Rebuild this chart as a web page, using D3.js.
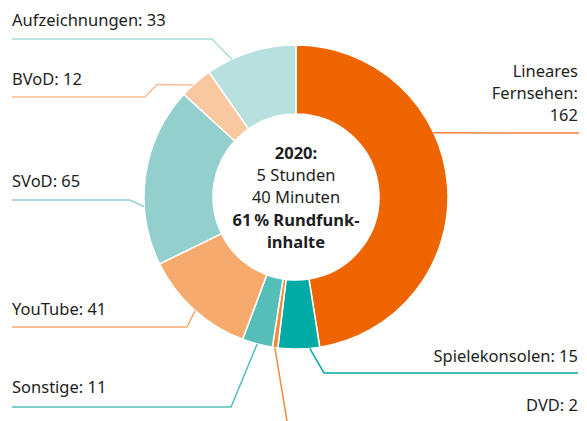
<!DOCTYPE html>
<html>
<head>
<meta charset="utf-8">
<script src="https://cdn.jsdelivr.net/npm/d3@7"></script>
<style>
  body { margin: 0; background: #fff; }
  svg text { font-family: "Noto Sans", "Open Sans", sans-serif; fill: #1e1e1e; }
</style>
</head>
<body>
<div id="chart"></div>
<script>
// Nutzungsdauer in Minuten pro Tag, 2020
var categories = ["Lineares Fernsehen", "Spielekonsolen", "DVD", "Sonstige", "YouTube", "SVoD", "BVoD", "Aufzeichnungen"];
var values = [162, 15, 2, 11, 41, 65, 12, 33];
var colors = ["#ee6500", "#00aba5", "#f08a3c", "#55beb9", "#f6aa6e", "#93cfcc", "#f9c7a0", "#b8e0de"];
var lineColors = ["#f0823a", "#00aba5", "#f08a3c", "#55beb9", "#f6aa6e", "#93cfcc", "#f7bf94", "#a9dad7"];
var centerLines = [["2020:", true], ["5 Stunden", false], ["40 Minuten", false], ["61\u2009% Rundfunk-", true], ["inhalte", true]];

var width = 587, height = 421;
var cx = 296, cy = 197, outerR = 152, innerR = 83;

// label layout: side, text baselines, anchor angle on ring (deg), elbow points
var labelLayout = [
  {side: "right", lines: ["Lineares", "Fernsehen:", "162"], y: 77, angle: 65, path: [[579, 133]]},
  {side: "right", lines: ["Spielekonsolen: 15"], y: 362, angle: 174.8, path: [[578, 373], [324, 373]]},
  {side: "right", lines: ["DVD: 2"], y: 411, angle: 188, path: [[287, 421]]},
  {side: "left", lines: ["Sonstige: 11"], y: 393, angle: 194.8, path: [[12, 407], [231, 407]]},
  {side: "left", lines: ["YouTube: 41"], y: 315, angle: 221.6, path: [[12, 327], [187, 327]]},
  {side: "left", lines: ["SVoD: 65"], y: 187, angle: 266.3, path: [[12, 200], [130, 200]]},
  {side: "left", lines: ["BVoD: 12"], y: 85, angle: 317.5, path: [[12, 97], [145, 97], [157, 84.5]]},
  {side: "left", lines: ["Aufzeichnungen: 33"], y: 26, angle: 335, path: [[12, 39], [212, 39]]}
];

var svg = d3.select("#chart").append("svg")
  .attr("width", width)
  .attr("height", height);

var pie = d3.pie().sort(null).value(function(d) { return d; });
var arc = d3.arc().innerRadius(innerR).outerRadius(outerR);

var g = svg.append("g").attr("transform", "translate(" + cx + "," + cy + ")");

g.selectAll("path.slice")
  .data(pie(values))
  .enter().append("path")
  .attr("class", "slice")
  .attr("d", arc)
  .attr("fill", function(d, i) { return colors[i]; })
  .attr("stroke", "#fff")
  .attr("stroke-width", 1.5);

// leader lines + labels
var line = d3.line();
labelLayout.forEach(function(l, i) {
  var p = d3.pointRadial(l.angle * Math.PI / 180, outerR);
  var pts = l.path.concat([[cx + p[0], cy + p[1]]]);
  svg.append("path")
    .attr("d", line(pts))
    .attr("fill", "none")
    .attr("stroke", lineColors[i])
    .attr("stroke-width", 1.5);

  var t = svg.append("text")
    .attr("font-size", 16.5)
    .attr("text-anchor", l.side == "right" ? "end" : "start");
  l.lines.forEach(function(s, k) {
    t.append("tspan")
      .attr("x", l.side == "right" ? 578 : 12)
      .attr("y", l.y + k * 22)
      .text(s);
  });
});

// center text
var ct = svg.append("text")
  .attr("text-anchor", "middle")
  .attr("font-size", 16.5);
centerLines.forEach(function(c, k) {
  ct.append("tspan")
    .attr("x", cx)
    .attr("y", 159 + k * 22.2)
    .attr("font-weight", c[1] ? "bold" : "normal")
    .text(c[0]);
});
</script>
</body>
</html>
